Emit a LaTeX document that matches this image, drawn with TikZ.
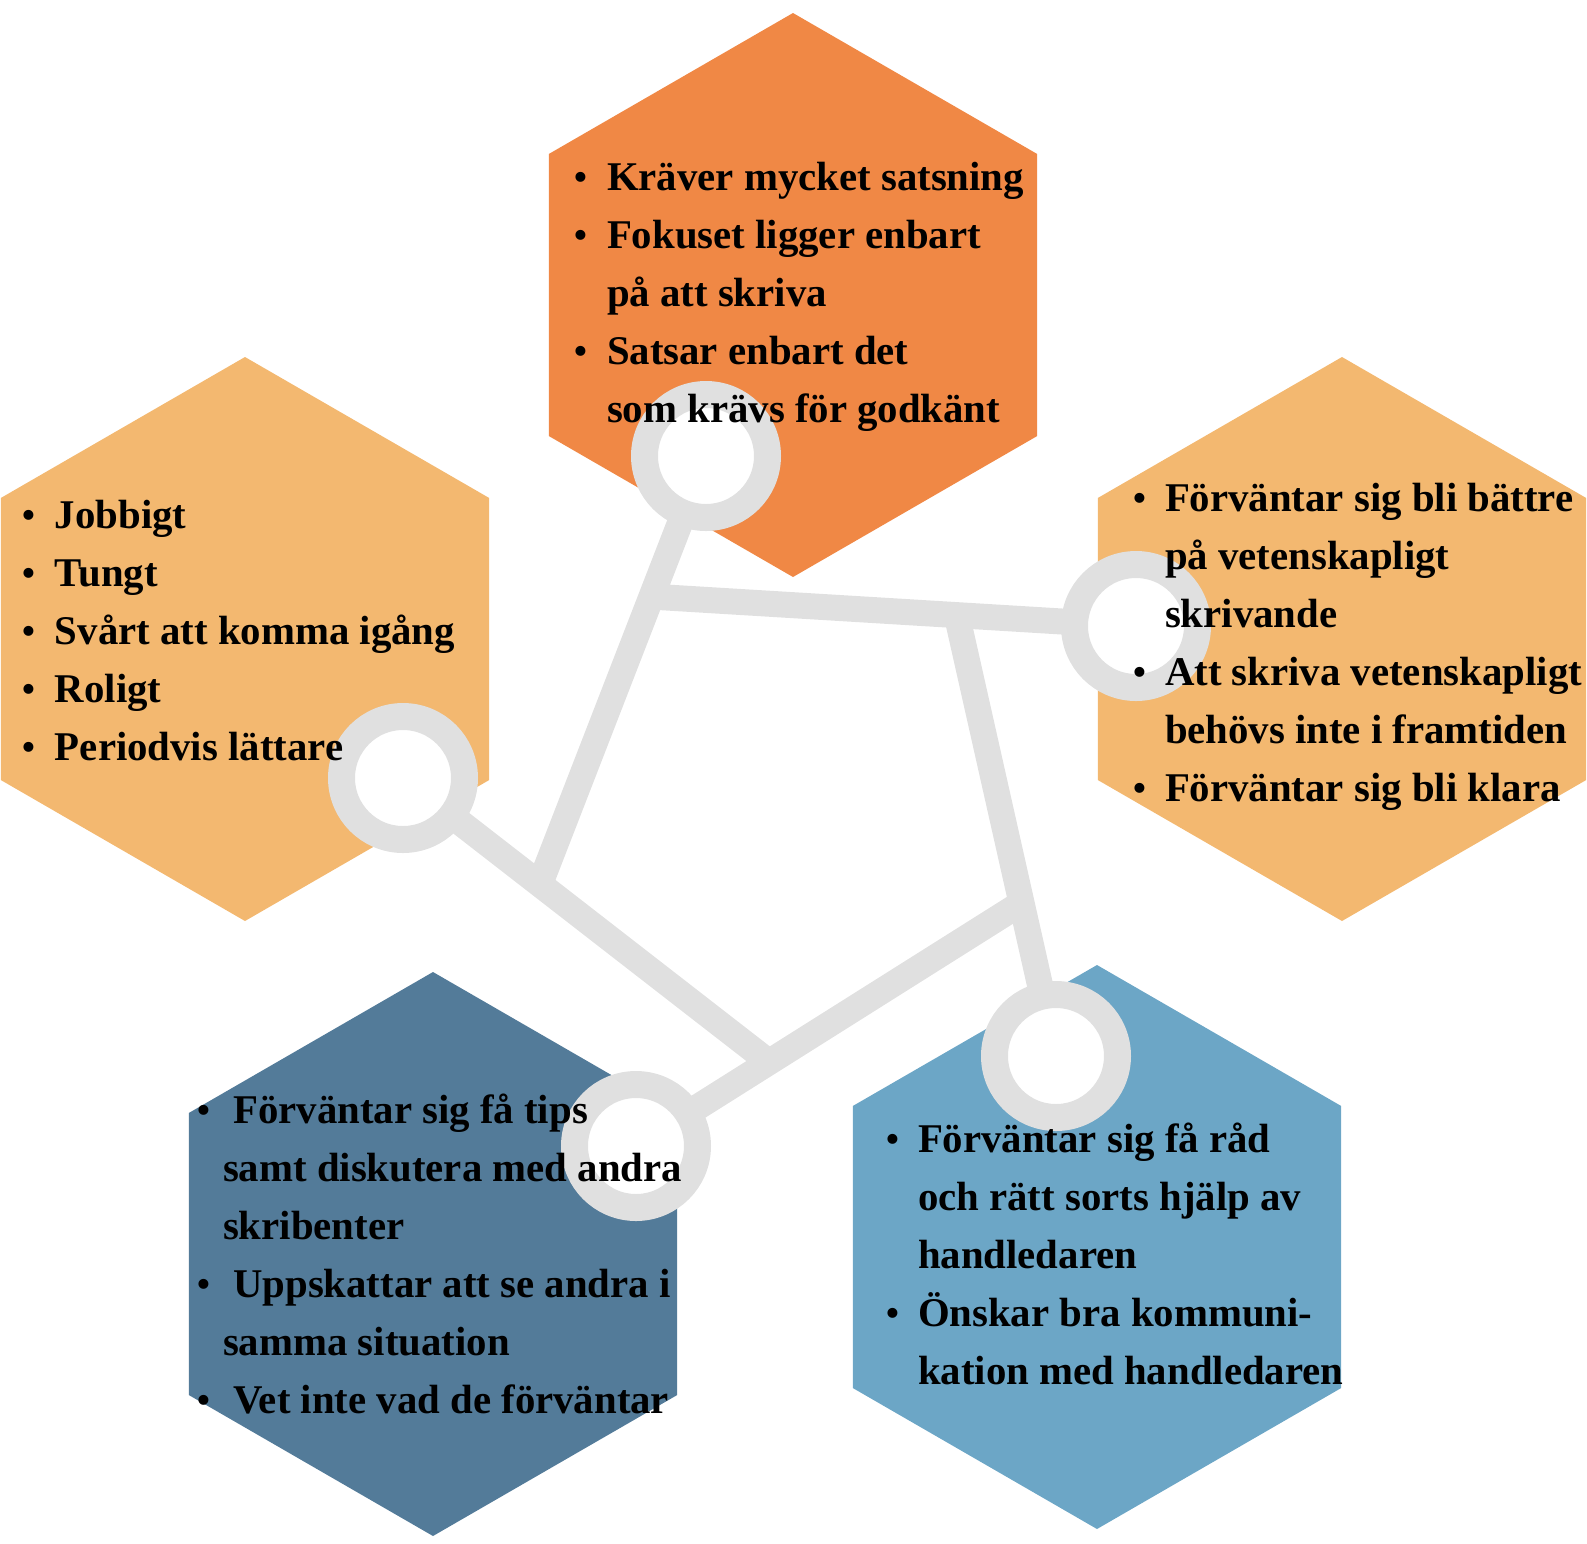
\documentclass[tikz,border=0pt]{standalone}
\usepackage{fontspec}
\setmainfont{Liberation Serif}
\usetikzlibrary{shapes.geometric,calc}
\definecolor{hexorange}{RGB}{240,136,69}
\definecolor{hexgold}{RGB}{243,184,112}
\definecolor{hexdark}{RGB}{83,123,153}
\definecolor{hexlight}{RGB}{108,166,198}
\definecolor{ringgray}{RGB}{224,224,224}
\newcommand{\bul}[1]{\makebox[#1][l]{\hspace{0.5pt}\raisebox{0.05ex}{\scalebox{0.9}{\textbullet}}}}
\newcommand{\ind}[1]{\makebox[#1][l]{}}
\begin{document}
\begin{tikzpicture}[x=0.5pt,y=-0.5pt,
  hexa/.style={regular polygon, regular polygon sides=6, regular polygon rotate=30, minimum size=282pt, inner sep=0pt, outer sep=0pt, draw=none},
  ring/.style={circle, draw=ringgray, line width=13.5pt, fill=white, minimum size=61.5pt, inner sep=0pt, outer sep=0pt},
  conn/.style={draw=ringgray, line width=13pt},
  txt/.style={anchor=base west, inner sep=0pt, outer sep=0pt, font=\fontsize{20.4pt}{29pt}\selectfont\bfseries}
]
\useasboundingbox (0,0) rectangle (1587,1544);
% hexagons
\node[hexa, fill=hexorange] (hT) at (793,295) {};
\node[hexa, fill=hexgold] (hL) at (245,639) {};
\node[hexa, fill=hexgold] (hR) at (1342,639) {};
\node[hexa, fill=hexdark] (hBL) at (433,1254) {};
\node[hexa, fill=hexlight] (hBR) at (1097,1247) {};
% ring positions
\coordinate (cT) at (706,456);
\coordinate (cL) at (403,778);
\coordinate (cR) at (1136,626);
\coordinate (cBL) at (636,1146);
\coordinate (cBR) at (1056,1056);
% junctions
\coordinate (J1) at ($(cT)!0.33!(541,882)$);
\coordinate (J3) at ($(J1)!0.63!(cR)$);
\coordinate (J4) at ($(J3)!0.653!(cBR)$);
\coordinate (J5) at ($(cBL)!0.345!(J4)$);
\coordinate (J2) at ($(cL)!0.374!(J5)$);
% connectors
\draw[conn] (cT) -- (J2);
\draw[conn] (J1) -- (cR);
\draw[conn] (J3) -- (cBR);
\draw[conn] (cL) -- (J5);
\draw[conn] (cBL) -- (J4);
% rings
\node[ring] (rT) at (cT) {};
\node[ring] (rL) at (cL) {};
\node[ring] (rR) at (cR) {};
\node[ring] (rBL) at (cBL) {};
\node[ring] (rBR) at (cBR) {};
% texts
\node[txt] (tT) at (573,190) {\begin{tabular}[t]{@{}l@{}}
\bul{17pt}Kräver mycket satsning\\
\bul{17pt}Fokuset ligger enbart\\
\ind{17pt}på att skriva\\
\bul{17pt}Satsar enbart det\\
\ind{17pt}som krävs för godkänt
\end{tabular}};
\node[txt] (tL) at (21,528) {\begin{tabular}[t]{@{}l@{}}
\bul{17pt}Jobbigt\\
\bul{17pt}Tungt\\
\bul{17pt}Svårt att komma igång\\
\bul{17pt}Roligt\\
\bul{17pt}Periodvis lättare
\end{tabular}};
\node[txt] (tR) at (1132,511) {\begin{tabular}[t]{@{}l@{}}
\bul{16.5pt}Förväntar sig bli bättre\\
\ind{16.5pt}på vetenskapligt\\
\ind{16.5pt}skrivande\\
\bul{16.5pt}Att skriva vetenskapligt\\
\ind{16.5pt}behövs inte i framtiden\\
\bul{16.5pt}Förväntar sig bli klara
\end{tabular}};
\node[txt] (tBL) at (196,1123) {\begin{tabular}[t]{@{}l@{}}
\bul{13.5pt}\ Förväntar sig få tips\\
\ind{13.5pt}samt diskutera med andra\\
\ind{13.5pt}skribenter\\
\bul{13.5pt}\ Uppskattar att se andra i\\
\ind{13.5pt}samma situation\\
\bul{13.5pt}\ Vet inte vad de förväntar
\end{tabular}};
\node[txt] (tBR) at (885,1152) {\begin{tabular}[t]{@{}l@{}}
\bul{16.5pt}Förväntar sig få råd\\
\ind{16.5pt}och rätt sorts hjälp av\\
\ind{16.5pt}handledaren\\
\bul{16.5pt}Önskar bra kommuni-\\
\ind{16.5pt}kation med handledaren
\end{tabular}};
\end{tikzpicture}
\end{document}
